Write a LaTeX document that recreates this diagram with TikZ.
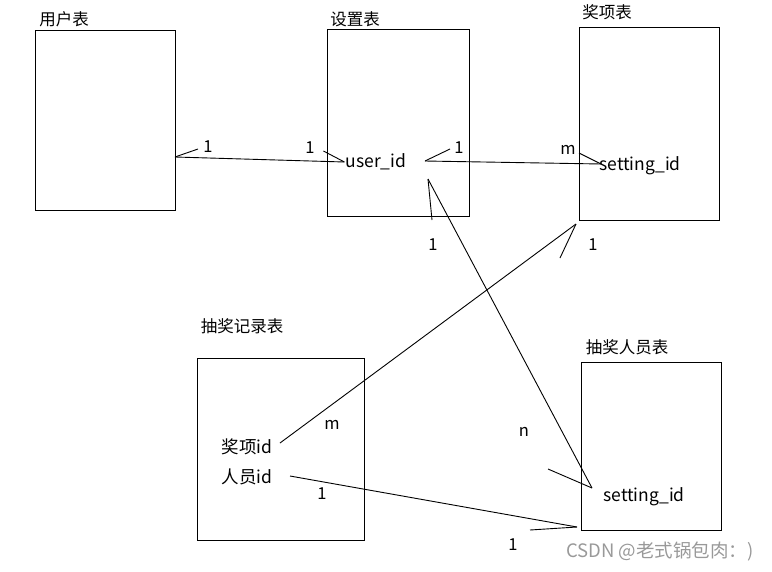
\documentclass[tikz,border=0pt]{standalone}
\usepackage{fontspec}
\setmainfont{Noto Sans CJK SC}
\usepackage{tikz}
\usetikzlibrary{positioning,calc}

\begin{document}
\begin{tikzpicture}[
    x=1pt, y=-1pt,
    table/.style={draw, line width=1pt, inner sep=0pt},
    title/.style={font=\fontsize{16.5}{18}\selectfont, inner sep=0pt},
    field/.style={font=\fontsize{17.5}{19}\selectfont, inner sep=1pt},
    card/.style={font=\fontsize{16.5}{18}\selectfont, inner sep=0pt},
    link/.style={line width=0.9pt}
]
\useasboundingbox (0,0) rectangle (772,571);

% tables
\node[table, minimum width=140pt, minimum height=180pt] (user) at (105,120) {};
\node[table, minimum width=142pt, minimum height=187pt] (setting) at (398,122.5) {};
\node[table, minimum width=140pt, minimum height=193pt] (prize) at (649,123.5) {};
\node[table, minimum width=167pt, minimum height=182pt] (record) at (280.5,449) {};
\node[table, minimum width=140pt, minimum height=168pt] (person) at (651,446) {};

\node[title] (usert) at (64,19) {用户表};
\node[title] (settingt) at (355,19) {设置表};
\node[title] (prizet) at (607,12) {奖项表};
\node[title] (recordt) at (242,326) {抽奖记录表};
\node[title] (persont) at (627,347) {抽奖人员表};

% fields
\node[field] (uid) at (376,162) {user\_id};
\node[field] (sid) at (640,166) {setting\_id};
\node[field] (jid) at (247,447) {奖项id};
\node[field] (rid) at (247,477) {人员id};
\node[field] (psid) at (644,497) {setting\_id};

% free ends of the connectors
\coordinate (userr) at (175,157);
\coordinate (uidr) at (425,161);
\coordinate (uidd) at (428,179);
\coordinate (sidl) at (601,164);
\coordinate (psidl) at (592,488);
\coordinate (jidr) at (280,443);
\coordinate (prizebl) at (576,224);
\coordinate (ridr) at (290,476);
\coordinate (personbl) at (577,527);

% connectors
\draw[link] (userr) -- (uid.west);
\draw[link] (uidr) -- (sidl);
\draw[link] (uidd) -- (psidl);
\draw[link] (jidr) -- (prizebl);
\draw[link] (ridr) -- (personbl);

% ticks
\draw[link] (userr) -- ++(23,-8);
\draw[link] (uid.west) -- ++(-21,-11);
\draw[link] (uidr) -- ++(25,-12);
\draw[link] (sidl) -- ++(-22,-11);
\draw[link] (uidd) -- ++(4,41);
\draw[link] (psidl) -- ++(-44,-19);
\draw[link] (prizebl) -- ++(-16,34);
\draw[link] (personbl) -- ++(-47,3);

% cardinalities
\node[card] (c1) at (208,147) {1};
\node[card] (c2) at (310,148) {1};
\node[card] (c3) at (459,148) {1};
\node[card] (c4) at (568,150) {m};
\node[card] (c5) at (433,245) {1};
\node[card] (c6) at (593,245) {1};
\node[card] (c7) at (332,425) {m};
\node[card] (c8) at (524,432) {n};
\node[card] (c9) at (322,494) {1};
\node[card] (c10) at (513,545) {1};

\node[font=\fontsize{18.5}{20}\selectfont, inner sep=0pt, text=black!40] (mark) at (660,551) {CSDN @老式锅包肉：)};
\end{tikzpicture}
\end{document}
